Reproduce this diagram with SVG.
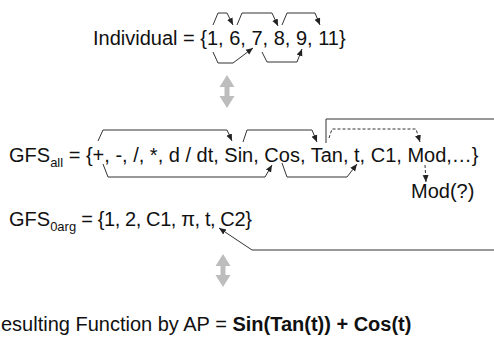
<svg xmlns="http://www.w3.org/2000/svg" width="494" height="338" viewBox="0 0 494 338">
  <style>
    text { font-family: "Liberation Sans", Arial, sans-serif; font-size: 20px; fill: #111; }
    .sub { font-size: 13px; }
    .b { font-weight: bold; }
    .tight { letter-spacing: -0.4px; }
    .ln { fill: none; stroke: #333; stroke-width: 1; }
    .dash { fill: none; stroke: #333; stroke-width: 1; stroke-dasharray: 3 2; }
    .gray { fill: #bdbdbd; }
  </style>
  <defs>
    <marker id="ah" markerUnits="userSpaceOnUse" markerWidth="8" markerHeight="8" viewBox="0 0 8 8" refX="7" refY="4" orient="auto">
      <path d="M0,1 L7,4 L0,7 z" fill="#222"/>
    </marker>
    <path id="dbl" d="M0,0 L7.5,12 L2.5,12 L2.5,21 L7.5,21 L0,33 L-7.5,21 L-2.5,21 L-2.5,12 L-7.5,12 z"/>
  </defs>

  <!-- chromosome -->
  <g id="individual">
    <text x="93" y="45">Individual = {1, 6, 7, 8, 9, 11}</text>
  </g>

  <!-- mapping arrows between rows -->
  <g id="map-top">
    <use href="#dbl" class="gray" x="227" y="75"/>
  </g>
  <g id="map-bottom">
    <use href="#dbl" class="gray" x="223" y="254"/>
  </g>

  <!-- function set -->
  <g id="gfs-all">
    <text x="9" y="162">GFS<tspan class="sub" dy="5">all</tspan><tspan dy="-5"> = {+, -, /, *, d / dt, Sin, Cos, Tan, t, C1, Mod,…}</tspan></text>
  </g>

  <g id="mod-q">
    <text x="411" y="198">Mod(?)</text>
  </g>

  <!-- terminal set -->
  <g id="gfs-0arg">
    <text x="9" y="226">GFS<tspan class="sub" dy="5">0arg</tspan><tspan class="tight" dy="-5"> = {1, 2, C1, π, t, C2}</tspan></text>
  </g>

  <g id="result">
    <text x="-13.5" y="331">Resulting Function by AP = <tspan class="b">Sin(Tan(t)) + Cos(t)</tspan></text>
  </g>

  <g id="connectors">
    <!-- links above the chromosome -->
    <polyline class="ln" points="213,25 218,13 227,13 233,25" marker-end="url(#ah)"/>
    <polyline class="ln" points="237,25 242,13 272,13 278,26" marker-end="url(#ah)"/>
    <polyline class="ln" points="282,25 287,13 315,13 320,25" marker-end="url(#ah)"/>
    <!-- links below the chromosome -->
    <polyline class="ln" points="213,52 218,63 233,63 253,48" marker-end="url(#ah)"/>
    <polyline class="ln" points="262,52 267,62 297,62 302,49" marker-end="url(#ah)"/>

    <!-- function tree over GFS_all -->
    <polyline class="ln" points="98,141 103,130 227,130 232,141" marker-end="url(#ah)"/>
    <polyline class="ln" points="103,164 108,177 265,177 272,165" marker-end="url(#ah)"/>
    <polyline class="ln" points="243,142 247,130 312,130 317,142" marker-end="url(#ah)"/>
    <polyline class="ln" points="282,163 287,177 347,177 357,164" marker-end="url(#ah)"/>
    <polyline class="ln" points="326,143 326,119 494,119"/>
    <polyline class="dash" points="329,138 332,129 416,129 420,142" marker-end="url(#ah)"/>
    <polyline class="dash" points="425,165 426,182" marker-end="url(#ah)"/>

    <!-- terminal pick -->
    <polyline class="ln" points="494,250 252,250 219,228" marker-end="url(#ah)"/>
  </g>
</svg>
